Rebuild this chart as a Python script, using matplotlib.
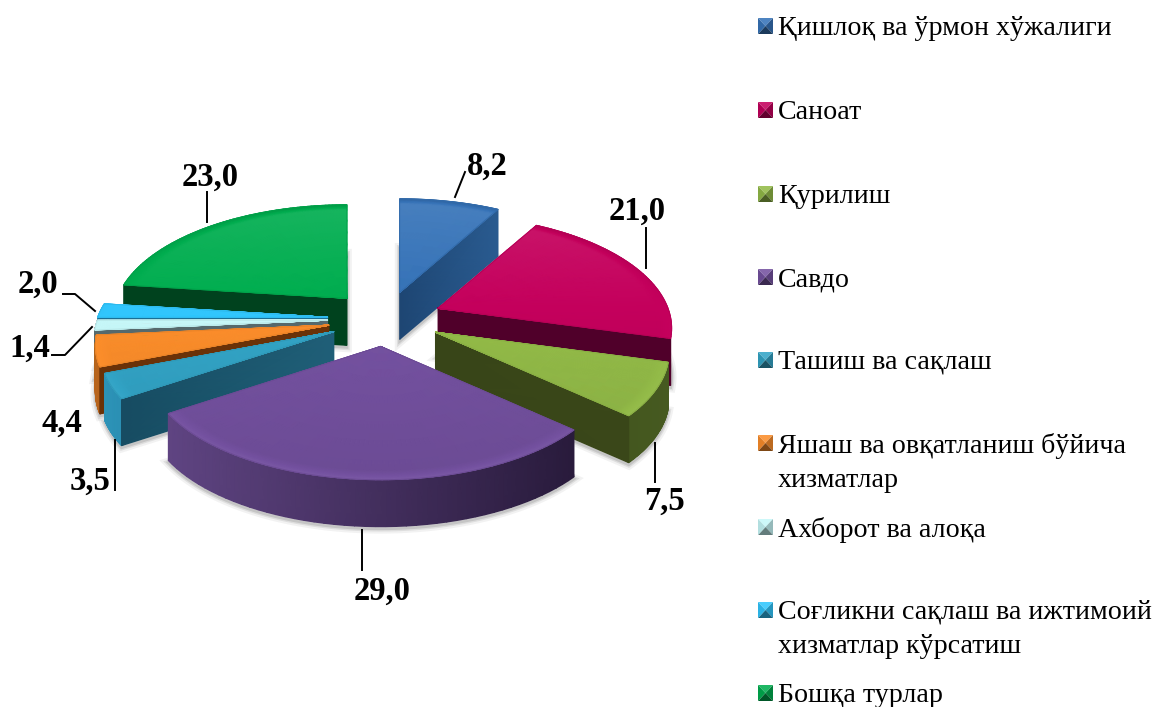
import numpy as np
import matplotlib
matplotlib.use("Agg")
import matplotlib.pyplot as plt
from matplotlib.colors import LinearSegmentedColormap
from matplotlib.patches import Polygon

#==Dados==#
values = [8.2, 21.0, 7.5, 29.0, 3.5, 4.4, 1.4, 2.0, 23.0]
legend_names = ["Қишлоқ ва ўрмон хўжалиги", "Саноат", "Қурилиш", "Савдо", "Ташиш ва сақлаш",
                "Яшаш ва овқатланиш бўйича\nхизматлар", "Ахборот ва алоқа",
                "Соғликни сақлаш ва ижтимоий\nхизматлар кўрсатиш", "Бошқа турлар"]
top_colors = ["#3673b8", "#c4005c", "#93bb48", "#7451a0", "#32a4c6", "#fb8d2a", "#c6f7f8", "#30c6fd", "#00ad4f"]
left_colors = ["#1e4673", "#50002a", "#3a4719", "#5f4482", "#2c93b8", "#b8641c", "#56696c", "#1a6f95", "#00421e"]
right_colors = ["#2a5b90", "#50002a", "#465a20", "#291b3c", "#1f5f78", "#6a3208", "#56696c", "#1a6f95", "#00421e"]
face_left = ["#1e4673", "#50002a", "#384518", "#3a2858", "#164b60", "#6a3208", "#56696c", "#1a6f95", "#00421e"]
face_right = ["#2a5b90", "#50002a", "#3a4719", "#3a2858", "#205f78", "#6a3208", "#56696c", "#1a6f95", "#00421e"]

#==Geometria da pizza==#
cx, cy = 385, 319
rx, ry = 230, 110
persp = 0.175
depth = 47
explode = 0.25


def proj(x, y):
    s = 1 / (1 + persp * y)
    return rx * x * s, -ry * y * s


fig = plt.figure(figsize=(11.55, 7.07), dpi=100)
ax = fig.add_axes([0, 0, 1, 1])
ax.set_xlim(0, 1155)
ax.set_ylim(707, 0)
ax.axis("off")

z = [2]


def nz():
    z[0] += 1
    return z[0]


def mesh(U, V, C, c1, c2, c3=None):
    cols = [c1, c2] if c3 is None else [c1, c2, c3]
    cmap = LinearSegmentedColormap.from_list("c", cols)
    ax.pcolormesh(U, V, C, shading="gouraud", cmap=cmap, vmin=0, vmax=1, zorder=nz())


def scale(col, f):
    rgb = np.array(matplotlib.colors.to_rgb(col))
    if f < 1:
        return tuple(rgb * f)
    return tuple(rgb + (1 - rgb) * (f - 1))


edges = np.cumsum([0] + values) * 3.6
mids = (edges[:-1] + edges[1:]) / 2
order = np.argsort(-np.cos(np.radians(mids)), kind="stable")

for i in order:
    a1, a2 = edges[i], edges[i + 1]
    bx, by = np.sin(np.radians(mids[i])), np.cos(np.radians(mids[i]))
    ox = cx + explode * bx * rx
    oy = cy - explode * by * ry
    th = np.radians(np.linspace(a1, a2, 80))
    ex, ey = proj(np.sin(th), np.cos(th))
    ex, ey = ex + ox, ey + oy
    xmin, xmax = min(ex.min(), ox), max(ex.max(), ox)

    #==Sombra==#
    for lw, al in [(7, 0.06), (4, 0.10), (2, 0.14)]:
        ax.add_patch(Polygon(np.c_[np.r_[ox, ex, ox], np.r_[oy + depth + 2, ey + depth + 2, oy + depth + 2]],
                             closed=True, fc="none", ec="#303030", lw=lw, alpha=al, zorder=nz()))

    #==Parede externa (a da fatia 1 fica escondida atrás da fatia 2)==#
    lo, hi = max(a1, 90), min(a2, 270)
    if hi > lo and i != 1:
        t = np.radians(np.linspace(lo, hi, 50))
        wx, wy = proj(np.sin(t), np.cos(t))
        U = np.vstack([wx + ox, wx + ox])
        V = np.vstack([wy + oy, wy + oy + depth])
        C = (U - xmin) / max(xmax - xmin, 1)
        mesh(U, V, C, left_colors[i], right_colors[i])

    #==Faces de corte==#
    if a1 >= 180:
        fx, fy = ex[0], ey[0]
        U = np.array([[ox, fx], [ox, fx]])
        V = np.array([[oy, fy], [oy + depth, fy + depth]])
        C = (U - xmin) / max(xmax - xmin, 1)
        mesh(U, V, C, face_left[i], face_right[i])
    if a2 <= 180:
        fx, fy = ex[-1], ey[-1]
        U = np.array([[ox, fx], [ox, fx]])
        V = np.array([[oy, fy], [oy + depth, fy + depth]])
        C = (U - xmin) / max(xmax - xmin, 1)
        mesh(U, V, C, face_left[i], face_right[i])

    #==Face superior==#
    r = np.r_[np.linspace(0, 0.94, 8), np.linspace(0.955, 1, 6)]
    T, Rr = np.meshgrid(np.radians(np.linspace(a1, a2, 80)), r)
    px, py = proj(Rr * np.sin(T), Rr * np.cos(T))
    U, V = px + ox, py + oy
    yy = Rr * np.cos(T)
    rim = np.clip((Rr - 0.94) / 0.06, 0, 1)
    C = 0.5 + 0.18 * yy + (-np.cos(T)) * 0.28 * rim - 0.18 * (np.cos(T) > 0) * rim ** 2 * np.cos(T)
    mesh(U, V, np.clip(C, 0, 1), scale(top_colors[i], 0.8), top_colors[i], scale(top_colors[i], 1.25))
    ax.plot(np.r_[ox, ex, ox], np.r_[oy, ey, oy], color=scale(top_colors[i], 0.93), lw=0.7, zorder=nz())

#==Rótulos de dados==#
label_pos = [(487, 166), (637, 211), (665, 501), (382, 591), (90, 481), (62, 423), (30, 348), (38, 284), (210, 177)]
for v, (lx, ly) in zip(values, label_pos):
    ax.text(lx, ly, f"{v:.1f}".replace(".", ","), fontsize=23.5, fontweight="bold", family="Liberation Serif",
            ha="center", va="center", color="black", zorder=200)

leaders = [([455, 465], [197, 172]), ([646, 646], [268, 228]), ([655, 655], [443, 482]), ([362, 362], [530, 570]),
           ([115, 115], [440, 490]), ([92, 65, 52], [327, 355, 355]), ([95, 75, 63], [311, 294, 294]),
           ([207, 207], [222, 192])]
for lx, ly in leaders:
    ax.plot(lx, ly, color="black", lw=1.4, zorder=199)

#==Legenda==#
legend_y = [26, 110, 194, 277, 360, 443, 527, 610, 693]
for i, (name, ly) in enumerate(zip(legend_names, legend_y)):
    x0, x1, y0, y1 = 758, 773, ly - 8, ly + 8
    xc, yc = (x0 + x1) / 2, (y0 + y1) / 2
    col = top_colors[i]
    tris = [([x0, x1, xc], [y0, y0, yc], 1.12), ([x1, x1, xc], [y0, y1, yc], 0.75),
            ([x0, x1, xc], [y1, y1, yc], 0.5), ([x0, x0, xc], [y0, y1, yc], 0.9)]
    for tx, ty, f in tris:
        ax.fill(tx, ty, color=scale(col, f), lw=0, zorder=50)
    ax.text(778, ly - 10, name, fontsize=20.2, family="Liberation Serif", ha="left", va="top",
            linespacing=1.47, color="black", zorder=51)

fig.savefig("out.png", dpi=100)
